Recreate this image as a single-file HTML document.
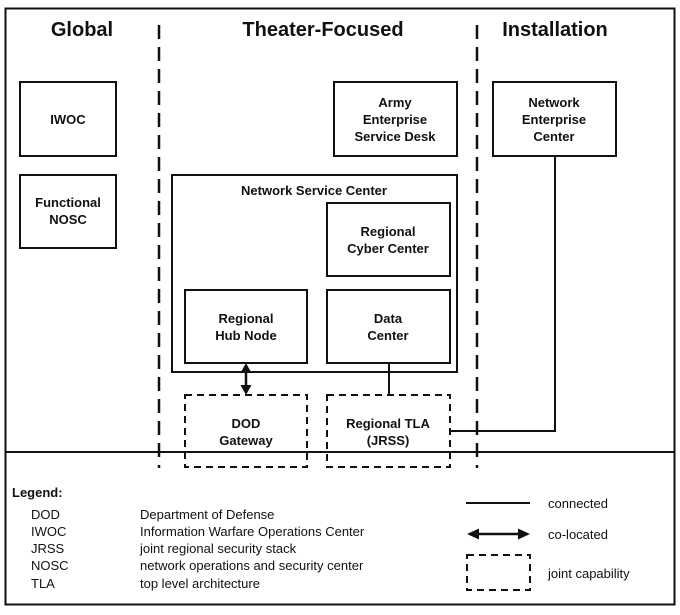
<!DOCTYPE html>
<html><head><style>
body{margin:0;background:#fff;}
svg text{font-family:"Liberation Sans",Arial,sans-serif;fill:#111;}
.b{font-weight:bold;font-size:13px;text-anchor:middle;}
.h{font-weight:bold;font-size:20px;text-anchor:middle;}
.l{font-size:13px;}
</style></head><body>
<svg width="680" height="610" viewBox="0 0 680 610" xmlns="http://www.w3.org/2000/svg">
<rect x="5.5" y="8.5" width="669" height="596" fill="none" stroke="#111" stroke-width="2"/>
<line x1="5" y1="452" x2="675" y2="452" stroke="#111" stroke-width="2"/>
<line x1="159" y1="25" x2="159" y2="468" stroke="#111" stroke-width="2.5" stroke-dasharray="14,8"/>
<line x1="477" y1="25" x2="477" y2="468" stroke="#111" stroke-width="2.5" stroke-dasharray="14,8"/>
<text class="h" x="82" y="36">Global</text>
<text class="h" x="323" y="36">Theater-Focused</text>
<text class="h" x="555" y="36">Installation</text>
<g fill="none" stroke="#111" stroke-width="2">
<rect x="20" y="82" width="96" height="74"/>
<rect x="20" y="175" width="96" height="73"/>
<rect x="334" y="82" width="123" height="74"/>
<rect x="493" y="82" width="123" height="74"/>
<rect x="172" y="175" width="285" height="197"/>
<rect x="327" y="203" width="123" height="73"/>
<rect x="185" y="290" width="122" height="73"/>
<rect x="327" y="290" width="123" height="73"/>
<rect x="185" y="395" width="122" height="72" stroke-dasharray="7,5"/>
<rect x="327" y="395" width="123" height="72" stroke-dasharray="7,5"/>
<line x1="389" y1="363" x2="389" y2="395"/>
<polyline points="450,431 555,431 555,156"/>
<line x1="246" y1="370" x2="246" y2="388" stroke-width="2.5"/>
<line x1="476" y1="534" x2="520" y2="534" stroke-width="2.5"/>
<line x1="466" y1="503" x2="530" y2="503"/>
<rect x="467" y="555" width="63" height="35" stroke-dasharray="7,5"/>
</g>
<g fill="#111">
<path d="M246,363 L240.5,373 L251.5,373 z"/>
<path d="M246,395 L240.5,385 L251.5,385 z"/>
<path d="M467,534 L479,528.5 L479,539.5 z"/>
<path d="M530,534 L518,528.5 L518,539.5 z"/>
</g>
<text class="b" x="68" y="124">IWOC</text>
<text class="b" x="68" y="207">Functional</text><text class="b" x="68" y="224">NOSC</text>
<text class="b" x="395" y="107">Army</text><text class="b" x="395" y="124">Enterprise</text><text class="b" x="395" y="141">Service Desk</text>
<text class="b" x="554" y="107">Network</text><text class="b" x="554" y="124">Enterprise</text><text class="b" x="554" y="141">Center</text>
<text class="b" x="314" y="195">Network Service Center</text>
<text class="b" x="388" y="236">Regional</text><text class="b" x="388" y="253">Cyber Center</text>
<text class="b" x="246" y="323">Regional</text><text class="b" x="246" y="340">Hub Node</text>
<text class="b" x="388" y="323">Data</text><text class="b" x="388" y="340">Center</text>
<text class="b" x="246" y="428">DOD</text><text class="b" x="246" y="445">Gateway</text>
<text class="b" x="388" y="428">Regional TLA</text><text class="b" x="388" y="445">(JRSS)</text>
<text class="l" x="12" y="497" font-weight="bold">Legend:</text>
<text class="l" x="31" y="519">DOD</text><text class="l" x="140" y="519">Department of Defense</text>
<text class="l" x="31" y="536">IWOC</text><text class="l" x="140" y="536">Information Warfare Operations Center</text>
<text class="l" x="31" y="553">JRSS</text><text class="l" x="140" y="553">joint regional security stack</text>
<text class="l" x="31" y="570">NOSC</text><text class="l" x="140" y="570">network operations and security center</text>
<text class="l" x="31" y="588">TLA</text><text class="l" x="140" y="588">top level architecture</text>
<text class="l" x="548" y="508">connected</text>
<text class="l" x="548" y="539">co-located</text>
<text class="l" x="548" y="578">joint capability</text>
</svg>
</body></html>
